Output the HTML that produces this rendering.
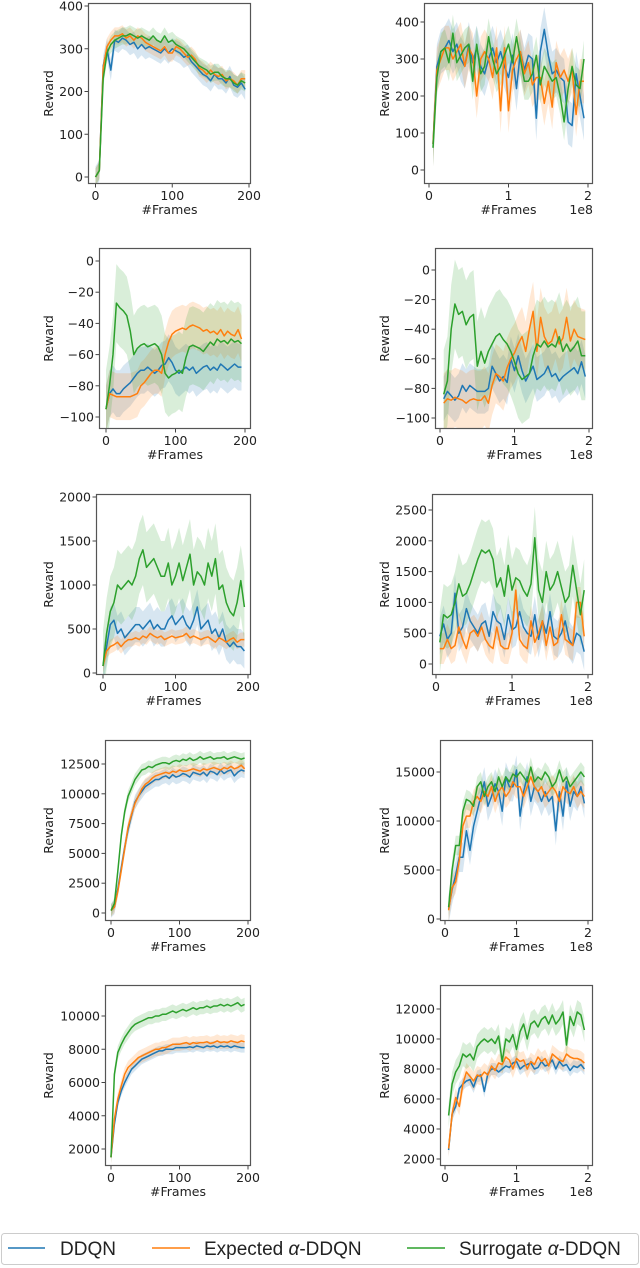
<!DOCTYPE html>
<html><head><meta charset="utf-8"><style>
html,body{margin:0;padding:0;background:#fff;}
svg{display:block;font-family:"Liberation Sans","DejaVu Sans",sans-serif;}
#plots text{font-family:"DejaVu Sans","Liberation Sans",sans-serif;}
</style></head><body>
<svg id="fig" width="640" height="1268" viewBox="0 0 640 1268" xmlns="http://www.w3.org/2000/svg">
<g id="plots"></g>
<g>
<rect x="1.5" y="1233.5" width="637" height="31" rx="3" fill="#fff" stroke="#ccc"/>
<line x1="8" y1="1248" x2="45" y2="1248" stroke="#1f77b4" stroke-width="1.5"/>
<text x="60" y="1255" font-size="19" fill="#222">DDQN</text>
<line x1="152" y1="1248" x2="190" y2="1248" stroke="#ff7f0e" stroke-width="1.5"/>
<text x="204" y="1255" font-size="19" fill="#222">Expected <tspan font-style="italic">α</tspan>-DDQN</text>
<line x1="407" y1="1248" x2="445" y2="1248" stroke="#2ca02c" stroke-width="1.5"/>
<text x="459" y="1255" font-size="19" fill="#222">Surrogate <tspan font-style="italic">α</tspan>-DDQN</text>
</g>
</svg>
<script>
// ---- data ----
const framesLeft = [0,5,10,15,20,25,30,35,40,45,50,55,60,65,70,75,80,85,90,95,100,105,110,115,120,125,130,135,140,145,150,155,160,165,170,175,180,185,190,195];
const framesRight = [0.05,0.1,0.15,0.2,0.25,0.3,0.35,0.4,0.45,0.5,0.55,0.6,0.65,0.7,0.75,0.8,0.85,0.9,0.95,1.0,1.05,1.1,1.15,1.2,1.25,1.3,1.35,1.4,1.45,1.5,1.55,1.6,1.65,1.7,1.75,1.8,1.85,1.9,1.95];
const seriesNames = ["DDQN","Expected α-DDQN","Surrogate α-DDQN"];

const p1L_D=[0,15,260,300,250,320,315,325,320,310,315,300,310,300,305,300,295,290,300,290,300,295,290,280,285,270,260,250,240,235,225,240,230,230,220,235,215,210,220,205];
const p1L_E=[0,15,255,305,320,330,330,335,325,330,320,330,325,315,310,305,300,295,305,290,290,305,300,290,280,285,275,255,250,240,250,240,235,240,225,230,225,215,230,230];
const p1L_S=[0,15,230,290,310,320,325,330,330,335,330,325,330,325,320,330,320,315,330,315,320,310,305,300,290,280,270,260,255,250,240,245,245,235,230,230,220,215,225,220];
const p1R_D=[70,280,320,330,350,320,340,300,280,340,290,330,280,260,300,330,290,320,280,250,310,220,320,270,310,300,140,320,380,310,260,270,250,240,130,120,260,200,140];
const p1R_E=[70,270,300,330,330,300,320,340,280,330,310,200,300,320,300,250,330,160,330,160,270,300,320,260,290,230,250,250,180,240,170,290,250,270,240,270,150,240,240];
const p1R_S=[60,250,320,330,290,370,290,310,330,340,240,340,260,280,360,300,260,280,310,340,290,360,300,240,240,260,310,230,280,260,240,250,200,130,220,280,230,220,300];

const p2L_D=[-95,-85,-82,-85,-85,-82,-80,-78,-75,-72,-70,-70,-68,-70,-72,-70,-67,-66,-62,-65,-70,-72,-70,-68,-70,-68,-72,-70,-68,-67,-70,-68,-70,-66,-68,-70,-68,-66,-68,-68];
const p2L_E=[-95,-85,-86,-87,-87,-87,-87,-87,-86,-85,-80,-78,-75,-72,-70,-70,-72,-60,-52,-47,-45,-44,-43,-44,-42,-41,-42,-43,-45,-44,-46,-45,-47,-44,-48,-45,-47,-48,-44,-50];
const p2L_S=[-95,-80,-60,-27,-30,-32,-35,-45,-60,-56,-54,-53,-55,-54,-53,-55,-60,-72,-75,-73,-72,-70,-72,-62,-55,-54,-55,-56,-58,-55,-52,-54,-50,-52,-51,-53,-50,-52,-51,-53];
const p2R_D=[-87,-82,-85,-88,-85,-78,-82,-78,-80,-82,-82,-82,-80,-65,-70,-75,-72,-76,-60,-68,-58,-68,-75,-70,-65,-74,-72,-70,-65,-72,-70,-75,-72,-70,-68,-66,-70,-62,-72];
const p2R_E=[-90,-87,-88,-86,-87,-88,-90,-88,-87,-88,-88,-85,-90,-78,-70,-72,-75,-66,-60,-56,-50,-45,-55,-40,-28,-55,-32,-45,-50,-48,-40,-50,-46,-32,-48,-40,-45,-46,-47];
const p2R_S=[-84,-75,-40,-23,-30,-28,-37,-32,-30,-65,-55,-63,-55,-50,-45,-43,-47,-50,-55,-62,-70,-74,-72,-70,-58,-50,-52,-48,-52,-50,-52,-45,-55,-50,-55,-52,-48,-58,-58];

const p3L_D=[80,300,550,600,450,500,400,450,500,550,550,500,550,600,500,550,500,500,600,650,550,600,650,550,500,600,750,500,550,600,450,500,400,500,350,300,350,300,300,250];
const p3L_E=[80,250,300,320,350,300,350,380,380,400,380,420,400,450,420,400,420,380,400,420,400,410,420,450,400,420,400,380,400,410,380,350,400,380,350,380,400,350,380,380];
const p3L_S=[80,450,700,800,1000,950,1000,1050,1000,1100,1300,1400,1200,1250,1300,1200,1100,1100,1250,1000,1100,1250,1050,1200,1350,1000,1150,1100,1000,1250,1100,1300,950,1000,800,700,650,800,1050,750];
const p3R_D=[450,650,400,500,1150,500,600,900,700,600,500,650,700,450,850,700,650,400,800,550,600,850,600,500,450,800,400,700,500,850,450,400,500,700,400,300,500,450,200];
const p3R_E=[250,250,400,250,300,600,400,250,500,550,450,600,400,300,250,600,300,250,250,500,1200,400,300,250,700,350,500,700,300,600,300,350,800,400,350,300,1000,1000,450];
const p3R_S=[350,800,750,800,1000,1300,1100,1150,1300,1500,1700,1850,1800,1850,1700,1250,1400,1100,1600,1200,1400,1350,1200,1100,1300,2050,1200,1000,1500,1200,1300,1500,1250,1000,1100,1600,1200,800,1200];

const p4L_D=[200,500,2000,3800,5500,7000,8200,9300,9800,10200,10600,10800,11000,11200,11200,11400,11500,11300,11600,11400,11500,11700,11600,11400,11800,11700,11600,11800,11500,11900,11800,11600,12000,11700,11900,12000,11500,11800,12000,11900];
const p4L_E=[200,500,1800,3600,5400,7200,8300,9200,9800,10400,10800,11000,11300,11500,11600,11700,11800,11700,11900,11800,12000,11900,11900,12000,12100,12000,11900,12100,12000,12100,12200,12100,12000,12200,12100,12300,12100,12200,12400,12100];
const p4L_S=[200,800,3500,6500,8500,9800,10500,11200,11600,12000,12100,12300,12200,12400,12500,12600,12600,12500,12700,12800,12700,12900,12800,13000,12800,12900,13100,12900,13000,13100,12900,13000,13000,13100,12900,13000,13100,13000,12900,13000];
const p4R_D=[1000,3000,4500,6300,6300,9000,7000,9500,11000,12500,14000,11500,12500,13800,13000,11000,14500,13500,13500,15200,10500,13000,14500,12000,13500,13000,12000,13000,12000,12500,9000,13000,10500,14000,11500,13000,12500,13500,11800];
const p4R_E=[900,3200,3800,6000,9500,10500,10500,12000,12500,12000,13000,12500,13500,12000,13000,13500,12500,13000,14000,13500,13500,12500,13500,14500,13500,13000,13500,12500,13000,13500,13000,12000,13500,13000,12800,13500,12500,13000,12500];
const p4R_S=[1200,5000,7500,7500,11000,12200,12000,11500,13500,14000,12500,13500,14000,13000,14500,13500,14500,14000,14800,14500,15000,14500,14000,15500,14000,14500,14200,15000,14500,13500,14000,15200,14000,14500,13500,14000,14500,15000,14500];

const p5L_D=[1500,3500,4800,5500,6000,6400,6800,7000,7200,7400,7500,7600,7700,7800,7900,7900,8000,8000,8000,8100,8100,8100,8100,8150,8100,8200,8150,8100,8200,8150,8200,8100,8200,8150,8200,8100,8200,8150,8100,8100];
const p5L_E=[1500,3800,5000,5800,6500,6900,7100,7300,7500,7600,7700,7800,7900,8000,8000,8100,8100,8200,8300,8300,8300,8350,8400,8300,8400,8350,8400,8400,8450,8350,8400,8500,8400,8450,8400,8500,8450,8400,8500,8450];
const p5L_S=[1500,6500,7800,8300,8700,9000,9300,9500,9600,9700,9800,9900,9900,10000,10000,10100,10100,10200,10300,10200,10300,10400,10300,10400,10500,10400,10500,10500,10600,10500,10600,10600,10700,10600,10700,10600,10700,10800,10600,10700];
const p5R_D=[2600,5000,5500,6700,7000,7200,7300,6800,7500,7600,6500,7700,8000,8000,7800,8000,8200,8100,8400,8500,8000,8200,8300,8400,8000,8100,8500,8200,8300,8600,8000,8500,8200,8300,7900,8200,8100,8300,8000];
const p5R_E=[2700,5000,6100,5500,7000,7800,7500,7200,7600,7500,7800,7600,8200,7900,8400,8300,8800,8600,8000,8700,8500,8600,8000,8500,8300,8800,8500,8700,8200,9000,8800,8600,8500,9000,8800,8700,8700,8600,8400];
const p5R_S=[4900,7000,7800,8200,9000,8800,9000,8600,9500,9800,10000,9800,10000,9700,10200,8500,10000,9800,10300,9300,10500,11000,10000,11000,11200,10800,11300,11500,11000,11600,11000,11300,11800,9600,11500,10900,11800,11600,10600];

// band half-widths (reward units) per series
const bands_p1L=[25,20,20], bands_p1R=[60,60,50];
const bands_p2L=[15,15,25], bands_p2R=[15,20,30];
const bands_p3L=[200,80,400], bands_p3R=[300,250,500];
const bands_p4L=[600,500,500], bands_p4R=[1500,1200,1000];
const bands_p5L=[300,400,400], bands_p5R=[400,600,800];

const yt1L=[0,100,200,300,400], yt1R=[0,100,200,300,400];
const yt2L=[0,-20,-40,-60,-80,-100], yt2R=[0,-20,-40,-60,-80,-100];
const yt3L=[0,500,1000,1500,2000], yt3R=[0,500,1000,1500,2000,2500];
const yt4L=[0,2500,5000,7500,10000,12500], yt4R=[0,5000,10000,15000];
const yt5L=[2000,4000,6000,8000,10000], yt5R=[2000,4000,6000,8000,10000,12000];
const xtLeft=[0,100,200], xtRight=[0,1,2];

// ---- layout (pixels) ----
const COLORS=["#1f77b4","#ff7f0e","#2ca02c"];
const panels=[
 {id:"row1-left",x0:88,x1:251,y0:3,y1:184,xa:[0,95.5,200,249],ya:[0,177,400,6],yt:yt1L,xt:xtLeft,xs:framesLeft,s:[p1L_D,p1L_E,p1L_S],b:bands_p1L,right:false},
 {id:"row1-right",x0:424,x1:593,y0:3,y1:184,xa:[0,429,2,588],ya:[0,170,400,22],yt:yt1R,xt:xtRight,xs:framesRight,s:[p1R_D,p1R_E,p1R_S],b:bands_p1R,right:true},
 {id:"row2-left",x0:99,x1:251,y0:248,y1:429,xa:[0,106,200,245],ya:[0,261,-100,417],yt:yt2L,xt:xtLeft,xs:framesLeft,s:[p2L_D,p2L_E,p2L_S],b:bands_p2L,right:false},
 {id:"row2-right",x0:435,x1:593,y0:248,y1:429,xa:[0,440,2,589],ya:[0,270,-100,418],yt:yt2R,xt:xtRight,xs:framesRight,s:[p2R_D,p2R_E,p2R_S],b:bands_p2R,right:true},
 {id:"row3-left",x0:96,x1:251,y0:494,y1:675,xa:[0,103,200,248],ya:[0,673,2000,497],yt:yt3L,xt:xtLeft,xs:framesLeft,s:[p3L_D,p3L_E,p3L_S],b:bands_p3L,right:false},
 {id:"row3-right",x0:432,x1:593,y0:494,y1:675,xa:[0,436,2,588],ya:[0,664,2500,510],yt:yt3R,xt:xtRight,xs:framesRight,s:[p3R_D,p3R_E,p3R_S],b:bands_p3R,right:true},
 {id:"row4-left",x0:105,x1:251,y0:740,y1:921,xa:[0,111,200,248],ya:[0,913,12500,764],yt:yt4L,xt:xtLeft,xs:framesLeft,s:[p4L_D,p4L_E,p4L_S],b:bands_p4L,right:false},
 {id:"row4-right",x0:440,x1:593,y0:740,y1:921,xa:[0,445,2,588],ya:[0,919,15000,772],yt:yt4R,xt:xtRight,xs:framesRight,s:[p4R_D,p4R_E,p4R_S],b:bands_p4R,right:true},
 {id:"row5-left",x0:105,x1:251,y0:985,y1:1166,xa:[0,111,200,248],ya:[10000,1016,2000,1149],yt:yt5L,xt:xtLeft,xs:framesLeft,s:[p5L_D,p5L_E,p5L_S],b:bands_p5L,right:false},
 {id:"row5-right",x0:440,x1:593,y0:985,y1:1166,xa:[0,445,2,588],ya:[12000,1009,2000,1159],yt:yt5R,xt:xtRight,xs:framesRight,s:[p5R_D,p5R_E,p5R_S],b:bands_p5R,right:true}
];
const NS="http://www.w3.org/2000/svg";
const root=document.getElementById("plots");
function mk(tag,attrs,parent){const e=document.createElementNS(NS,tag);for(const k in attrs)e.setAttribute(k,attrs[k]);parent.appendChild(e);return e;}
function lin(a){return v=>a[1]+(v-a[0])*(a[3]-a[1])/(a[2]-a[0]);}
panels.forEach(p=>{
  const g=mk("g",{},root);
  
  
  const X=lin(p.xa), Y=lin(p.ya);
  const cid="clip-"+p.id;
  const cp=mk("clipPath",{id:cid},g); mk("rect",{x:p.x0,y:p.y0,width:p.x1-p.x0,height:p.y1-p.y0},cp);
  const plot=mk("g",{"clip-path":"url(#"+cid+")"},g);
  p.s.forEach((arr,i)=>{
    const up=arr.map((v,j)=>X(p.xs[j]).toFixed(1)+","+Y(v+p.b[i]).toFixed(1));
    const lo=arr.map((v,j)=>X(p.xs[j]).toFixed(1)+","+Y(v-p.b[i]).toFixed(1)).reverse();
    const band=mk("polygon",{points:up.concat(lo).join(" "),fill:COLORS[i],"fill-opacity":0.18,stroke:"none"},plot);
    
    
  });
  p.s.forEach((arr,i)=>{
    const pts=arr.map((v,j)=>X(p.xs[j]).toFixed(1)+","+Y(v).toFixed(1)).join(" ");
    const ln=mk("polyline",{points:pts,fill:"none",stroke:COLORS[i],"stroke-width":1.5,"stroke-linejoin":"round"},plot);
    
    
  });
  const fr=mk("rect",{x:p.x0+0.5,y:p.y0+0.5,width:p.x1-p.x0-1,height:p.y1-p.y0-1,fill:"none",stroke:"#555","stroke-width":1.2},g);
  
  
  p.yt.forEach(t=>{
    const y=Y(t);
    mk("line",{x1:p.x0-3.5,x2:p.x0,y1:y,y2:y,stroke:"#444"},g);
    const tx=mk("text",{x:p.x0-5,y:y+4.5,"font-size":12.5,"text-anchor":"end",fill:"#222"},g);
    tx.textContent=(t<0?"\u2212"+(-t):""+t);
    
    
  });
  p.xt.forEach(t=>{
    const x=X(t);
    mk("line",{x1:x,x2:x,y1:p.y1,y2:p.y1+3.5,stroke:"#444"},g);
    const tx=mk("text",{x:x,y:p.y1+16,"font-size":12.5,"text-anchor":"middle",fill:"#222"},g);
    tx.textContent=""+t;
    
    
  });
  const xl=mk("text",{x:(p.x0+p.x1)/2,y:p.y1+30,"font-size":12.5,"text-anchor":"middle",fill:"#222"},g);
  xl.textContent="#Frames";
  
  
  if(p.right){
    const off=mk("text",{x:p.x1,y:p.y1+30,"font-size":12.5,"text-anchor":"end",fill:"#222"},g);
    off.textContent="1e8";
    
    
  }
  const lx=p.right?389:53, ly=(p.y0+p.y1)/2;
  const yl=mk("text",{x:lx,y:ly,"font-size":12.5,"text-anchor":"middle",fill:"#222",transform:"rotate(-90 "+lx+" "+ly+")"},g);
  yl.textContent="Reward";
  
  
});
</script>
</body></html>
